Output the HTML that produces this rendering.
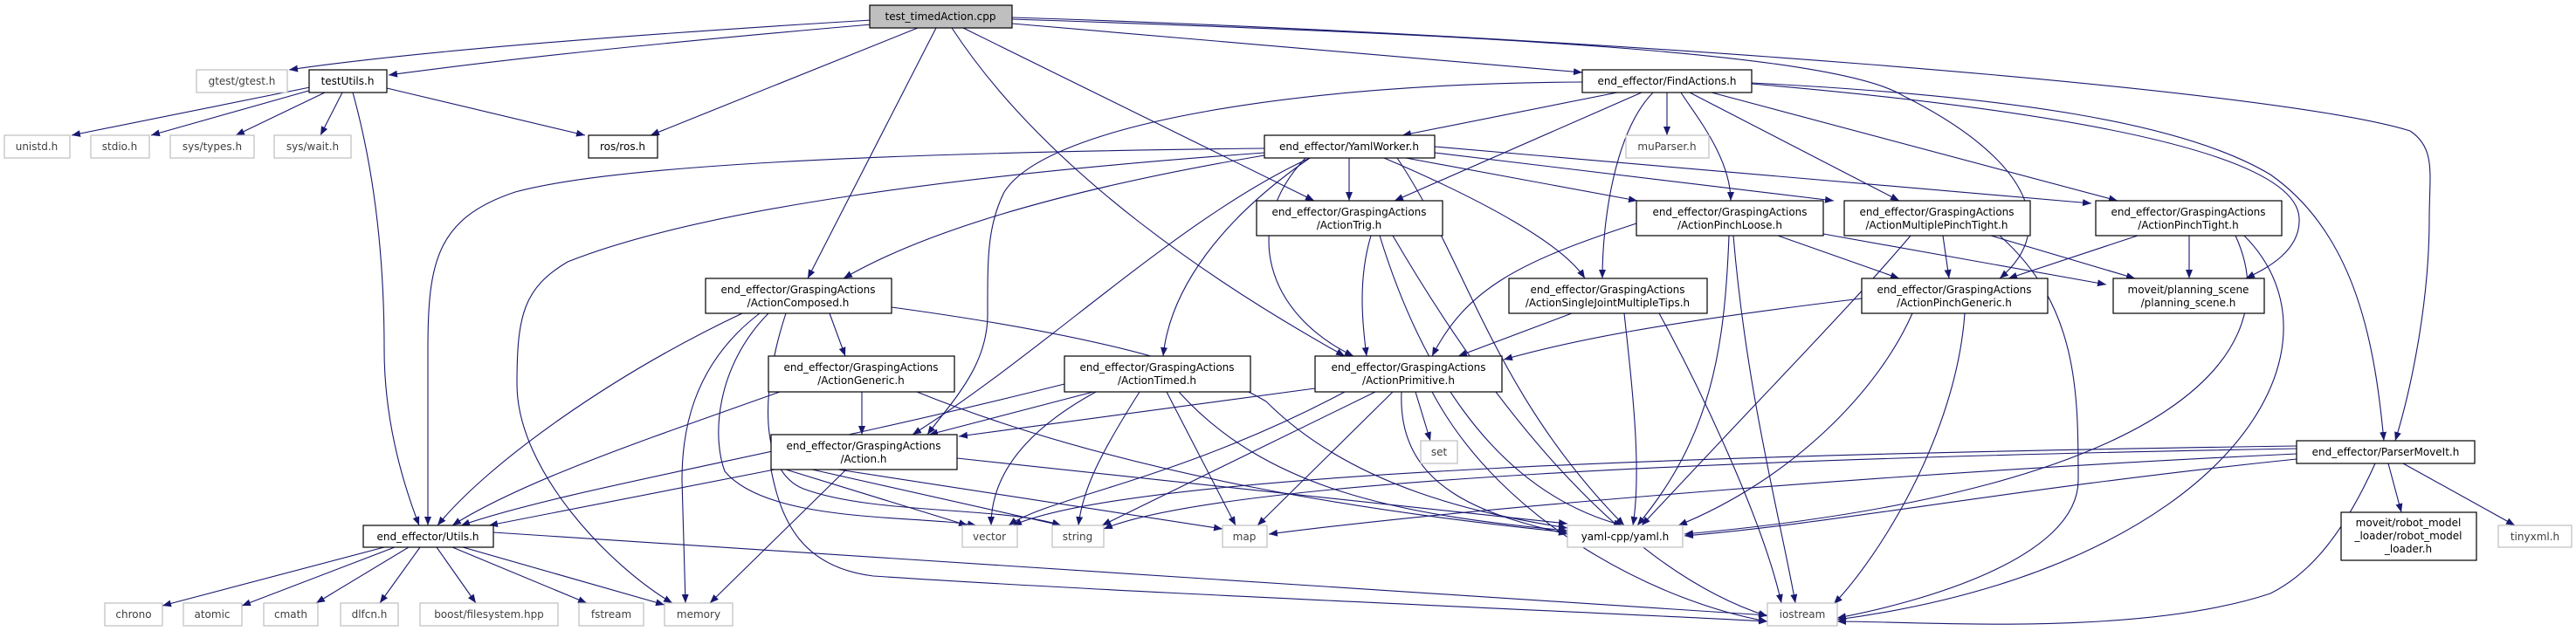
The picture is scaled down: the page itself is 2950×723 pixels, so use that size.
<!DOCTYPE html>
<html><head><meta charset="utf-8"><style>
html,body{margin:0;padding:0;background:#fff;}
svg{display:block;}
text{font-family:"DejaVu Sans","Liberation Sans",sans-serif;font-size:12px;fill:#000;}
.e{fill:none;stroke:#191970;stroke-width:1.1;marker-end:url(#a);}
.b{fill:#fff;stroke:#000;stroke-width:1.2;}
.g{fill:#fff;stroke:#bfbfbf;stroke-width:1.2;}
.gt{fill:#3f3f3f;}
</style></head><body>
<svg width="2950" height="723" viewBox="0 0 2950 723" xmlns="http://www.w3.org/2000/svg">
<defs><marker id="a" markerWidth="10" markerHeight="8" refX="10" refY="4" orient="auto" markerUnits="userSpaceOnUse"><path d="M0,0 L10,4 L0,8z" fill="#191970"/></marker></defs>
<g>
<path class="e" d="M998,23 C800,35 500,55 331,80"/>
<path class="e" d="M998,28 C800,45 600,65 445,86"/>
<path class="e" d="M1051,32 L745,155"/>
<path class="e" d="M1072,32 L925,319"/>
<path class="e" d="M1103,32 L1505,230"/>
<path class="e" d="M1090,32 C1200,200 1400,330 1540,408"/>
<path class="e" d="M1159,27 L1812,83"/>
<path class="e" d="M1159,22 C1700,40 2100,60 2180,110 C2320,180 2360,260 2290,319"/>
<path class="e" d="M1159,20 C1800,40 2600,100 2760,150 C2790,170 2782,200 2782,250 C2782,350 2760,450 2743,505"/>
<path class="e" d="M2006,95 C2300,110 2500,140 2600,200 C2700,270 2720,400 2730,505"/>
<path class="e" d="M2006,96 C2400,130 2630,180 2633,250 C2635,290 2590,310 2572,319"/>
<path class="e" d="M1960,106 L2425,230"/>
<path class="e" d="M1935,106 L2175,230"/>
<path class="e" d="M1925,106 C1940,130 1982,180 1982,230"/>
<path class="e" d="M1909,106 L1909,155"/>
<path class="e" d="M1893,106 C1850,150 1835,250 1835,319"/>
<path class="e" d="M1880,106 L1597,230"/>
<path class="e" d="M1852,106 L1606,155"/>
<path class="e" d="M1812,94 C1500,95 1200,140 1150,220 C1130,260 1131,300 1131,360 C1131,420 1090,460 1062,498"/>
<path class="e" d="M1448,170 C1000,175 700,190 590,220 C500,250 490,300 490,400 L490,602"/>
<path class="e" d="M1448,175 C1100,200 800,240 650,300 C600,330 592,360 592,440 C592,540 700,650 770,691"/>
<path class="e" d="M1448,178 C1200,220 1050,270 966,319"/>
<path class="e" d="M1545,181 L1545,230"/>
<path class="e" d="M1500,181 C1350,250 1200,400 1045,498"/>
<path class="e" d="M1500,181 C1400,250 1340,330 1332,408"/>
<path class="e" d="M1495,181 C1420,260 1450,360 1550,408"/>
<path class="e" d="M1600,181 C1680,300 1710,450 1860,602"/>
<path class="e" d="M1585,181 C1700,230 1790,280 1815,319"/>
<path class="e" d="M1610,181 L1875,230"/>
<path class="e" d="M1643,175 L2100,230"/>
<path class="e" d="M1643,168 L2395,233"/>
<path class="e" d="M1570,270 C1555,320 1560,370 1565,408"/>
<path class="e" d="M1580,270 C1620,400 1700,560 1858,602"/>
<path class="e" d="M1595,270 C1700,450 1850,650 2024,706"/>
<path class="e" d="M1874,256 C1740,300 1680,330 1640,408"/>
<path class="e" d="M2036,270 L2175,319"/>
<path class="e" d="M2088,268 L2412,326"/>
<path class="e" d="M1980,270 C1975,400 1960,500 1875,602"/>
<path class="e" d="M1985,270 C2000,450 2040,600 2056,691"/>
<path class="e" d="M2225,270 L2232,319"/>
<path class="e" d="M2280,270 L2445,319"/>
<path class="e" d="M2188,270 C2120,350 2050,420 1880,602"/>
<path class="e" d="M2290,270 C2380,350 2380,450 2380,550 C2380,640 2200,690 2104,708"/>
<path class="e" d="M2448,270 L2300,319"/>
<path class="e" d="M2507,270 L2507,319"/>
<path class="e" d="M2560,270 C2620,400 2500,560 1929,612"/>
<path class="e" d="M2570,270 C2700,400 2550,650 2104,710"/>
<path class="e" d="M2132,342 C1900,370 1800,390 1722,412"/>
<path class="e" d="M2190,359 C2150,450 2050,550 1922,602"/>
<path class="e" d="M2250,359 C2240,500 2150,640 2100,692"/>
<path class="e" d="M1800,359 L1670,408"/>
<path class="e" d="M1860,359 C1870,450 1880,540 1870,602"/>
<path class="e" d="M1900,359 C1950,450 2020,600 2040,691"/>
<path class="e" d="M950,359 L968,408"/>
<path class="e" d="M850,359 C700,430 560,530 501,602"/>
<path class="e" d="M870,359 C790,420 781,500 781,550 L785,691"/>
<path class="e" d="M880,359 C820,420 815,500 830,540 C880,600 1050,590 1118,602"/>
<path class="e" d="M900,359 C870,450 870,540 920,560 C1000,590 1150,580 1215,602"/>
<path class="e" d="M1021,352 C1300,390 1400,430 1450,460 C1550,560 1700,590 1795,605"/>
<path class="e" d="M987,449 L987,498"/>
<path class="e" d="M893,449 C750,500 600,550 518,602"/>
<path class="e" d="M1050,449 C1300,550 1600,590 1795,610"/>
<path class="e" d="M1252,449 L1064,498"/>
<path class="e" d="M1219,440 C900,520 650,560 528,602"/>
<path class="e" d="M1255,449 C1180,490 1135,540 1135,602"/>
<path class="e" d="M1305,449 C1260,520 1240,560 1235,602"/>
<path class="e" d="M1336,449 L1415,602"/>
<path class="e" d="M1350,449 C1450,560 1600,590 1795,608"/>
<path class="e" d="M1506,445 L1098,500"/>
<path class="e" d="M1540,449 C1350,550 1200,570 1155,602"/>
<path class="e" d="M1575,449 L1262,602"/>
<path class="e" d="M1595,449 L1440,602"/>
<path class="e" d="M1621,449 L1638,505"/>
<path class="e" d="M1605,449 C1600,560 1700,590 1795,612"/>
<path class="e" d="M1640,449 C1720,600 1900,690 2024,712"/>
<path class="e" d="M887,538 L560,602"/>
<path class="e" d="M900,538 L1108,602"/>
<path class="e" d="M930,538 L1215,602"/>
<path class="e" d="M960,538 L1400,606"/>
<path class="e" d="M1096,525 L1795,600"/>
<path class="e" d="M969,538 L813,691"/>
<path class="e" d="M883,538 C895,600 920,650 1000,660 C1300,680 1800,700 2024,712"/>
<path class="e" d="M440,627 L186,694"/>
<path class="e" d="M452,627 L277,694"/>
<path class="e" d="M468,627 L362,691"/>
<path class="e" d="M481,627 L435,691"/>
<path class="e" d="M500,627 L545,691"/>
<path class="e" d="M518,627 L672,691"/>
<path class="e" d="M530,627 L761,693"/>
<path class="e" d="M565,610 L2024,705"/>
<path class="e" d="M355,100 L82,155"/>
<path class="e" d="M357,103 L173,155"/>
<path class="e" d="M372,106 L270,155"/>
<path class="e" d="M392,106 L367,155"/>
<path class="e" d="M443,101 L670,155"/>
<path class="e" d="M404,106 C430,200 440,300 440,400 C440,480 460,550 480,602"/>
<path class="e" d="M2630,511 C2000,520 1300,540 1160,602"/>
<path class="e" d="M2630,514 C2000,525 1400,550 1264,606"/>
<path class="e" d="M2630,520 C2200,540 1700,580 1453,612"/>
<path class="e" d="M2630,526 C2300,560 2100,600 1929,614"/>
<path class="e" d="M2735,531 L2750,587"/>
<path class="e" d="M2752,531 L2880,602"/>
<path class="e" d="M2720,531 C2680,620 2640,660 2600,680 C2450,730 2200,712 2104,712"/>
</g>
<g>
<rect x="996" y="6" width="163" height="26" fill="#bfbfbf" stroke="#000" stroke-width="1.2"/><text x="1077" y="23" text-anchor="middle">test_timedAction.cpp</text>
<rect class="g" x="225" y="80" width="104" height="26"/><text x="277" y="97" text-anchor="middle" class="gt">gtest/gtest.h</text>
<rect class="b" x="354" y="80" width="89" height="26"/><text x="398" y="97" text-anchor="middle">testUtils.h</text>
<rect class="g" x="5" y="155" width="75" height="26"/><text x="42" y="172" text-anchor="middle" class="gt">unistd.h</text>
<rect class="g" x="104" y="155" width="67" height="26"/><text x="137" y="172" text-anchor="middle" class="gt">stdio.h</text>
<rect class="g" x="195" y="155" width="96" height="26"/><text x="243" y="172" text-anchor="middle" class="gt">sys/types.h</text>
<rect class="g" x="314" y="155" width="88" height="26"/><text x="358" y="172" text-anchor="middle" class="gt">sys/wait.h</text>
<rect class="b" x="674" y="155" width="79" height="26"/><text x="713" y="172" text-anchor="middle">ros/ros.h</text>
<rect class="b" x="1812" y="80" width="194" height="26"/><text x="1909" y="97" text-anchor="middle">end_effector/FindActions.h</text>
<rect class="b" x="1448" y="155" width="195" height="26"/><text x="1545" y="172" text-anchor="middle">end_effector/YamlWorker.h</text>
<rect class="g" x="1862" y="155" width="95" height="26"/><text x="1909" y="172" text-anchor="middle" class="gt">muParser.h</text>
<rect class="b" x="1439" y="230" width="213" height="40"/><text x="1545" y="247" text-anchor="middle">end_effector/GraspingActions</text><text x="1545" y="262" text-anchor="middle">/ActionTrig.h</text>
<rect class="b" x="1874" y="230" width="214" height="40"/><text x="1981" y="247" text-anchor="middle">end_effector/GraspingActions</text><text x="1981" y="262" text-anchor="middle">/ActionPinchLoose.h</text>
<rect class="b" x="2112" y="230" width="213" height="40"/><text x="2218" y="247" text-anchor="middle">end_effector/GraspingActions</text><text x="2218" y="262" text-anchor="middle">/ActionMultiplePinchTight.h</text>
<rect class="b" x="2400" y="230" width="213" height="40"/><text x="2506" y="247" text-anchor="middle">end_effector/GraspingActions</text><text x="2506" y="262" text-anchor="middle">/ActionPinchTight.h</text>
<rect class="b" x="808" y="319" width="213" height="40"/><text x="914" y="336" text-anchor="middle">end_effector/GraspingActions</text><text x="914" y="351" text-anchor="middle">/ActionComposed.h</text>
<rect class="b" x="1728" y="319" width="227" height="40"/><text x="1841" y="336" text-anchor="middle">end_effector/GraspingActions</text><text x="1841" y="351" text-anchor="middle">/ActionSingleJointMultipleTips.h</text>
<rect class="b" x="2132" y="319" width="213" height="40"/><text x="2238" y="336" text-anchor="middle">end_effector/GraspingActions</text><text x="2238" y="351" text-anchor="middle">/ActionPinchGeneric.h</text>
<rect class="b" x="2420" y="319" width="173" height="40"/><text x="2506" y="336" text-anchor="middle">moveit/planning_scene</text><text x="2506" y="351" text-anchor="middle">/planning_scene.h</text>
<rect class="b" x="880" y="408" width="213" height="41"/><text x="986" y="425" text-anchor="middle">end_effector/GraspingActions</text><text x="986" y="440" text-anchor="middle">/ActionGeneric.h</text>
<rect class="b" x="1219" y="408" width="213" height="41"/><text x="1325" y="425" text-anchor="middle">end_effector/GraspingActions</text><text x="1325" y="440" text-anchor="middle">/ActionTimed.h</text>
<rect class="b" x="1506" y="408" width="214" height="41"/><text x="1613" y="425" text-anchor="middle">end_effector/GraspingActions</text><text x="1613" y="440" text-anchor="middle">/ActionPrimitive.h</text>
<rect class="b" x="883" y="498" width="213" height="40"/><text x="989" y="515" text-anchor="middle">end_effector/GraspingActions</text><text x="989" y="530" text-anchor="middle">/Action.h</text>
<rect class="g" x="1627" y="505" width="42" height="26"/><text x="1648" y="522" text-anchor="middle" class="gt">set</text>
<rect class="b" x="2630" y="505" width="204" height="26"/><text x="2732" y="522" text-anchor="middle">end_effector/ParserMoveIt.h</text>
<rect class="b" x="416" y="602" width="149" height="25"/><text x="490" y="619" text-anchor="middle">end_effector/Utils.h</text>
<rect class="g" x="1102" y="602" width="63" height="25"/><text x="1133" y="619" text-anchor="middle" class="gt">vector</text>
<rect class="g" x="1205" y="602" width="59" height="25"/><text x="1234" y="619" text-anchor="middle" class="gt">string</text>
<rect class="g" x="1400" y="602" width="51" height="25"/><text x="1425" y="619" text-anchor="middle" class="gt">map</text>
<rect class="g" x="1795" y="602" width="132" height="25"/><text x="1861" y="619" text-anchor="middle">yaml-cpp/yaml.h</text>
<rect class="g" x="2861" y="602" width="84" height="25"/><text x="2903" y="619" text-anchor="middle" class="gt">tinyxml.h</text>
<rect class="b" x="2681" y="587" width="155" height="55"/><text x="2758" y="603" text-anchor="middle">moveit/robot_model</text><text x="2758" y="618" text-anchor="middle">_loader/robot_model</text><text x="2758" y="633" text-anchor="middle">_loader.h</text>
<rect class="g" x="120" y="691" width="66" height="26"/><text x="153" y="708" text-anchor="middle" class="gt">chrono</text>
<rect class="g" x="210" y="691" width="67" height="26"/><text x="243" y="708" text-anchor="middle" class="gt">atomic</text>
<rect class="g" x="302" y="691" width="62" height="26"/><text x="333" y="708" text-anchor="middle" class="gt">cmath</text>
<rect class="g" x="390" y="691" width="66" height="26"/><text x="423" y="708" text-anchor="middle" class="gt">dlfcn.h</text>
<rect class="g" x="481" y="691" width="158" height="26"/><text x="560" y="708" text-anchor="middle" class="gt">boost/filesystem.hpp</text>
<rect class="g" x="663" y="691" width="74" height="26"/><text x="700" y="708" text-anchor="middle" class="gt">fstream</text>
<rect class="g" x="761" y="691" width="78" height="26"/><text x="800" y="708" text-anchor="middle" class="gt">memory</text>
<rect class="g" x="2024" y="691" width="80" height="26"/><text x="2064" y="708" text-anchor="middle" class="gt">iostream</text>
</g>
</svg>
</body></html>
